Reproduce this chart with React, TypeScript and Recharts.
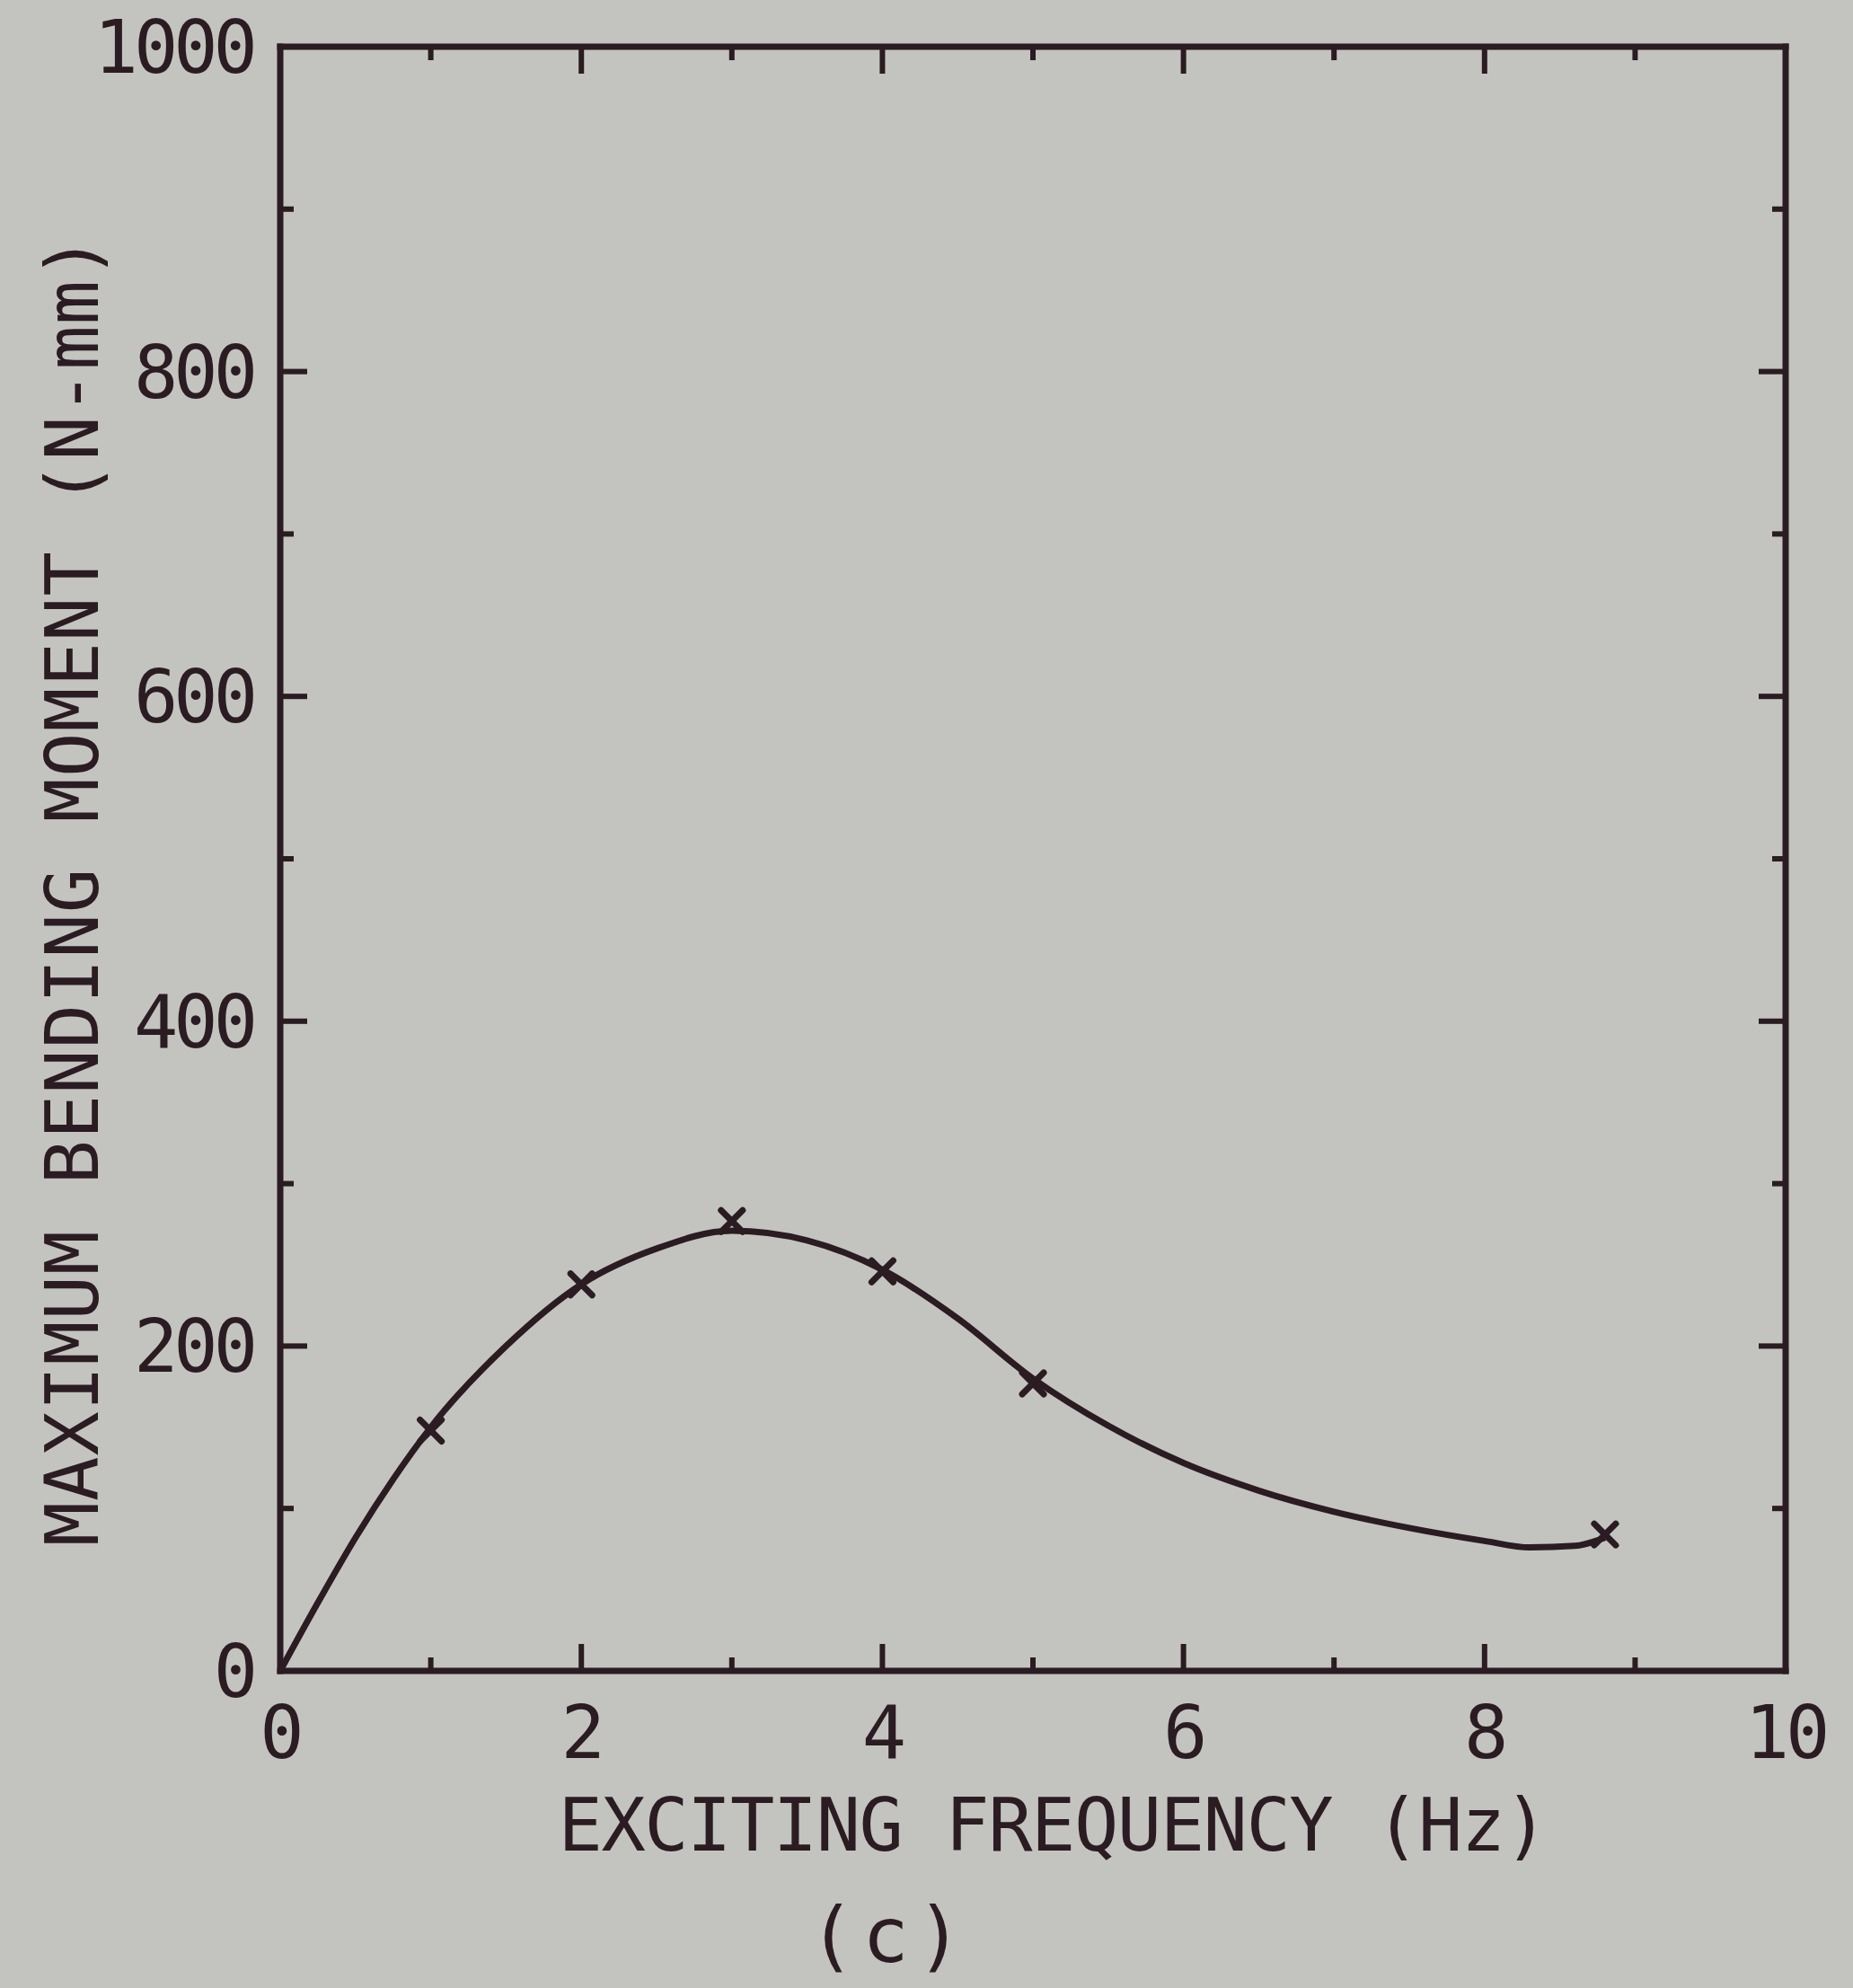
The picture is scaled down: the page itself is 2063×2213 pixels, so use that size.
import { ComposedChart, Line, Scatter, XAxis, YAxis } from 'recharts'

const INK = '#2a1c22'
const PAPER = '#c3c4bf'
const FONT = '"DejaVu Sans Mono", monospace'

// fitted curve
const curveFreq = [0, 0.25, 0.5, 0.75, 1, 1.5, 2, 2.5, 3, 3.5, 4, 4.5, 5, 5.5, 6, 6.5, 7, 7.5, 8, 8.3, 8.6, 8.8]
const curveMoment = [0, 42, 82, 118, 150, 200, 238, 260, 271, 265, 247, 217, 180, 151, 128, 111, 98, 88, 80, 76, 77, 82]

// measured points (x markers)
const testFreq = [1, 2, 3, 4, 5, 8.8]
const testMoment = [148, 238, 277, 246, 177, 84]

const xTicks = [0, 1, 2, 3, 4, 5, 6, 7, 8, 9, 10]
const yTicks = [0, 100, 200, 300, 400, 500, 600, 700, 800, 900, 1000]

const xTitle = 'EXCITING FREQUENCY (Hz)'
const yTitle = 'MAXIMUM BENDING MOMENT (N-mm)'
const caption = '(c)'

const curve = curveFreq.map((f, i) => ({ f, m: curveMoment[i] }))
const points = testFreq.map((f, i) => ({ f, m: testMoment[i] }))

const MAJOR = 30
const MINOR = 15

function BottomTick({ x, y, payload }: any) {
  const major = payload.value % 2 === 0
  return (
    <g>
      <line x1={x} x2={x} y1={y} y2={y - (major ? MAJOR : MINOR)} stroke={INK} strokeWidth={6} />
      {major && (
        <text x={x} y={y + 97} textAnchor="middle" fontFamily={FONT} fontSize={82} fill={INK} letterSpacing={-4}>
          {payload.value}
        </text>
      )}
    </g>
  )
}

function TopTick({ x, y, payload }: any) {
  const major = payload.value % 2 === 0
  return <line x1={x} x2={x} y1={y} y2={y + (major ? MAJOR : MINOR)} stroke={INK} strokeWidth={6} />
}

function LeftTick({ x, y, payload }: any) {
  const major = payload.value % 200 === 0
  return (
    <g>
      <line x1={x} x2={x + (major ? MAJOR : MINOR)} y1={y} y2={y} stroke={INK} strokeWidth={6} />
      {major && (
        <text x={x - 30} y={y + 29} textAnchor="end" fontFamily={FONT} fontSize={82} fill={INK} letterSpacing={-5}>
          {payload.value}
        </text>
      )}
    </g>
  )
}

function RightTick({ x, y, payload }: any) {
  const major = payload.value % 200 === 0
  return <line x1={x} x2={x - (major ? MAJOR : MINOR)} y1={y} y2={y} stroke={INK} strokeWidth={6} />
}

function XMark({ cx, cy }: any) {
  const s = 12
  return (
    <g stroke={INK} strokeWidth={7} strokeLinecap="round">
      <line x1={cx - s} y1={cy - s} x2={cx + s} y2={cy + s} />
      <line x1={cx - s} y1={cy + s} x2={cx + s} y2={cy - s} />
    </g>
  )
}

const axisLine = { stroke: INK, strokeWidth: 7, strokeLinecap: 'square' as const }

export default function App() {
  return (
    <div style={{ position: 'absolute', left: 0, top: 0, width: 2063, height: 2213, background: PAPER }}>
      <ComposedChart width={2063} height={2213} margin={{ top: 50, right: 73, bottom: 253, left: 192 }}>
        <XAxis
          xAxisId="b"
          dataKey="f"
          type="number"
          domain={[0, 10]}
          ticks={xTicks}
          height={100}
          tickSize={0}
          tickMargin={0}
          tickLine={false}
          axisLine={axisLine}
          tick={<BottomTick />}
          interval={0}
        />
        <XAxis
          xAxisId="t"
          orientation="top"
          dataKey="f"
          type="number"
          domain={[0, 10]}
          ticks={xTicks}
          height={2}
          tickSize={0}
          tickMargin={0}
          tickLine={false}
          axisLine={axisLine}
          tick={<TopTick />}
          interval={0}
        />
        <YAxis
          yAxisId="l"
          dataKey="m"
          type="number"
          domain={[0, 1000]}
          ticks={yTicks}
          width={120}
          tickSize={0}
          tickMargin={0}
          tickLine={false}
          axisLine={axisLine}
          tick={<LeftTick />}
          interval={0}
        />
        <YAxis
          yAxisId="r"
          orientation="right"
          dataKey="m"
          type="number"
          domain={[0, 1000]}
          ticks={yTicks}
          width={2}
          tickSize={0}
          tickMargin={0}
          tickLine={false}
          axisLine={axisLine}
          tick={<RightTick />}
          interval={0}
        />
        <Line
          xAxisId="b"
          yAxisId="l"
          data={curve}
          dataKey="m"
          type="monotone"
          stroke={INK}
          strokeWidth={7}
          dot={false}
          activeDot={false}
          isAnimationActive={false}
        />
        <Scatter
          xAxisId="b"
          yAxisId="l"
          data={points}
          dataKey="m"
          shape={<XMark />}
          isAnimationActive={false}
        />
        <Line
          xAxisId="t"
          yAxisId="r"
          data={points}
          dataKey="m"
          stroke="none"
          dot={false}
          activeDot={false}
          isAnimationActive={false}
        />
        <text x={80} y={991} transform="rotate(-90 80 991)" textAnchor="middle" dominantBaseline="central" fontFamily={FONT} fontSize={82} fill={INK} letterSpacing={1}>
          {yTitle}
        </text>
        <text x={1172} y={2060} textAnchor="middle" fontFamily={FONT} fontSize={82} fill={INK} letterSpacing={-1.5}>
          {xTitle}
        </text>
        <text x={990} y={2184} textAnchor="middle" fontFamily={FONT} fontSize={86} fill={INK} letterSpacing={8}>
          {caption}
        </text>
      </ComposedChart>
    </div>
  )
}
